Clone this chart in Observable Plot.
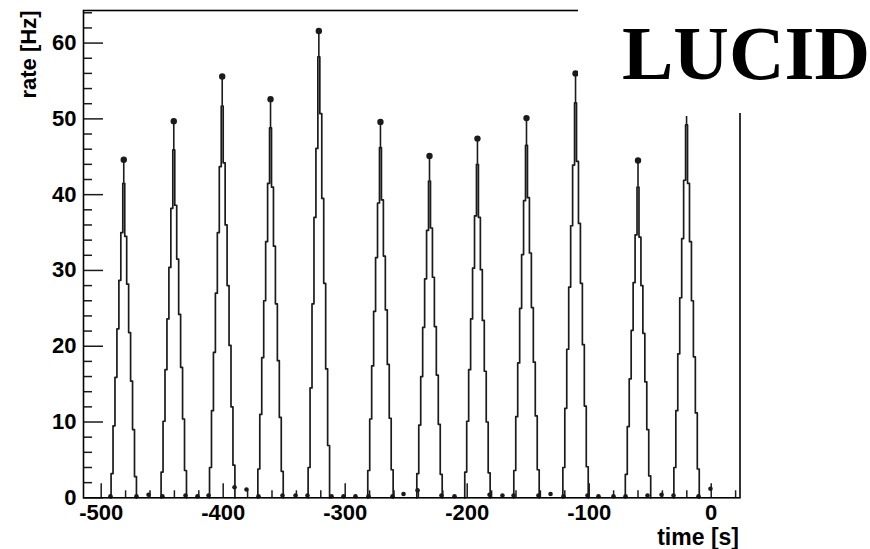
<!DOCTYPE html>
<html>
<head>
<meta charset="utf-8">
<script src="https://cdn.jsdelivr.net/npm/d3@7"></script>
<script src="https://cdn.jsdelivr.net/npm/@observablehq/plot@0.6"></script>
<style>
  html, body { margin: 0; padding: 0; background: #fff; }
  #wrap { position: relative; width: 870px; height: 549px; overflow: hidden; }
  #badge {
    position: absolute; left: 578px; top: 0; width: 292px; height: 113px;
    background: #fff;
  }
  #badge span {
    position: absolute; left: 44px; top: 15px;
    font-family: "Liberation Serif", "Times New Roman", serif;
    font-weight: bold; font-size: 77px; line-height: 1; color: #000;
    white-space: nowrap;
  }
</style>
</head>
<body>
<div id="wrap">
  <div id="chart"></div>
  <div id="badge"><span>LUCID</span></div>
</div>
<script>
// Scan peaks: centre time [s], marker rate [Hz], error-bar top, histogram top bin
const peakTime = [-481.5, -440.5, -400.8, -361.2, -321.6, -271.1, -230.9, -191.6, -151.4, -111.2, -60.0, -20.2];
const peakDot  = [44.6, 49.7, 55.6, 52.6, 61.6, 49.6, 45.1, 47.4, 50.1, 56.0, 44.5, null];
const peakErrHi = [44.6, 49.7, 55.6, 52.6, 61.6, 49.6, 45.1, 47.4, 50.1, 56.0, 44.5, 50.3];
const peakTop  = [41.5, 45.9, 51.7, 48.8, 58.2, 46.2, 41.8, 44.0, 46.5, 52.1, 41.0, 49.2];

// Histogram bins rising towards each peak (outer -> inner) and falling after it (inner -> outer)
const leftSteps = [
  [3.2, 9.5, 15.9, 22.3, 28.7, 35.0],
  [3.4, 10.1, 16.9, 23.6, 30.4, 38.2],
  [4.0, 11.5, 19.2, 27.0, 35.0, 43.7],
  [3.8, 11.0, 18.5, 26.0, 33.8, 41.5],
  [4.0, 14.5, 25.6, 37.0, 46.1],
  [3.6, 10.4, 17.4, 24.6, 31.7, 38.9],
  [3.2, 9.6, 16.0, 22.5, 28.9, 35.3],
  [3.4, 10.1, 16.9, 23.6, 30.3, 37.2],
  [3.6, 10.7, 17.8, 25.0, 32.1, 39.2],
  [4.0, 11.8, 19.6, 27.8, 35.9, 43.9],
  [3.1, 9.4, 15.7, 22.1, 28.4, 34.7],
  [4.0, 11.5, 19.0, 26.4, 34.2, 41.9]
];
const rightSteps = [
  [34.5, 28.2, 21.8, 15.4, 9.0, 2.8],
  [38.6, 31.5, 24.2, 17.2, 10.4, 3.6],
  [44.2, 36.0, 28.0, 20.1, 12.0, 4.3],
  [41.0, 33.2, 25.6, 18.1, 10.6, 3.5],
  [50.7, 39.5, 28.3, 17.0, 6.9],
  [39.3, 31.9, 24.8, 17.6, 10.5, 3.7],
  [35.6, 29.1, 22.6, 16.2, 9.7, 3.1],
  [37.0, 30.1, 23.4, 16.7, 10.0, 3.3],
  [39.6, 32.3, 25.1, 17.9, 10.8, 3.7],
  [44.4, 36.2, 28.3, 20.2, 12.1, 4.1],
  [34.4, 28.0, 21.7, 15.3, 9.0, 2.9],
  [41.5, 33.8, 26.0, 18.6, 11.2, 3.8]
];
const binWidth = 1.6;

// Off-peak measurements close to zero
const baseTime = [-492.4, -471.1, -461.2, -449.8, -430.9, -421.1, -412.0, -390.7, -380.9, -371.1,
  -351.4, -340.7, -330.9, -311.2, -301.4, -291.6, -280.9, -261.2, -252.2, -240.7, -221.1, -210.4,
  -181.7, -171.1, -162.0, -141.6, -131.7, -121.1, -101.4, -92.4, -80.1, -70.2, -52.2, -40.7,
  -30.9, -10.4, -0.6];
const baseRate = [0.2, 0.2, 0.4, 0.2, 0.3, 0.2, 0.3, 1.4, 1.1, 0.2,
  0.3, 0.3, 0.3, 0.2, 0.2, 0.2, 0.2, 0.2, 0.5, 1.0, 0.3, 0.2,
  0.4, 0.3, 0.3, 0.3, 0.5, 0.2, 0.3, 0.2, 0.2, 0.2, 0.3, 0.4,
  0.3, 0.2, 1.2];

// Axis ticks and labels
const xMajor = [-500, -400, -300, -200, -100, 0];
const xTickLabels = ["-500", "-400", "-300", "-200", "-100", "0"];
const xMinor = [-480, -460, -440, -420, -380, -360, -340, -320, -280, -260, -240, -220,
  -180, -160, -140, -120, -80, -60, -40, -20, 20];
const yMajor = [0, 10, 20, 30, 40, 50, 60];
const yTickLabels = ["0", "10", "20", "30", "40", "50", "60"];
const yMinor = [2, 4, 6, 8, 12, 14, 16, 18, 22, 24, 26, 28, 32, 34, 36, 38, 42, 44, 46, 48,
  52, 54, 56, 58, 62, 64];

const W = 870, H = 549;
const mL = 83, mR = 130.5, mT = 10, mB = 51.7;
const plotW = W - mL - mR, plotH = H - mT - mB;

// Outline vertices of the histogram around each peak
const outline = [];
peakTime.forEach((c, p) => {
  const levels = [...leftSteps[p], peakTop[p], ...rightSteps[p]];
  let t = c - binWidth / 2 - leftSteps[p].length * binWidth;
  outline.push({peak: p, t, rate: 0});
  for (const v of levels) {
    outline.push({peak: p, t, rate: v});
    t += binWidth;
    outline.push({peak: p, t, rate: v});
  }
  outline.push({peak: p, t, rate: 0});
});

const peaks = peakTime.map((t, i) => ({t, dot: peakDot[i], hi: peakErrHi[i], top: peakTop[i]}));
const base = baseTime.map((t, i) => ({t, rate: baseRate[i]}));

const ink = "#1b1b1b";
const labelFont = {fontSize: 22, fontWeight: "bold"};

const chart = Plot.plot({
  width: W, height: H,
  marginLeft: mL, marginRight: mR, marginTop: mT, marginBottom: mB,
  style: {fontFamily: "'Liberation Sans', Arial, Helvetica, sans-serif", color: "#000", background: "#fff", overflow: "visible"},
  x: {domain: [-514.5, 23.6]},
  y: {domain: [0, 64.3]},
  marks: [
    Plot.axisX(xMajor, {tickSize: 0, tickPadding: 7, tickFormat: (d, i) => xTickLabels[i], label: null, ...labelFont}),
    Plot.axisY(yMajor, {tickSize: 0, tickPadding: 7, tickFormat: (d, i) => yTickLabels[i], label: null, ...labelFont}),
    // inward tick marks on the left and bottom axes
    Plot.ruleY(yMajor, {stroke: ink, strokeWidth: 1.5, insetRight: plotW - 20}),
    Plot.ruleY(yMinor, {stroke: ink, strokeWidth: 1.5, insetRight: plotW - 9}),
    Plot.ruleX(xMajor, {stroke: ink, strokeWidth: 1.5, insetTop: plotH - 14}),
    Plot.ruleX(xMinor, {stroke: ink, strokeWidth: 1.5, insetTop: plotH - 7}),
    Plot.line(outline, {x: "t", y: "rate", z: "peak", stroke: ink, strokeWidth: 1.7, curve: "linear"}),
    Plot.ruleX(peaks, {x: "t", y1: "top", y2: "hi", stroke: ink, strokeWidth: 1.6, clip: true}),
    Plot.dot(peaks.filter(d => d.dot != null), {x: "t", y: "dot", r: 3.2, fill: ink, stroke: null}),
    Plot.dot(base, {x: "t", y: "rate", r: 2.3, fill: ink, stroke: null}),
    Plot.frame({stroke: "#000", strokeWidth: 1.6}),
    Plot.text(["rate [Hz]"], {frameAnchor: "top-left", dx: -63, rotate: -90, textAnchor: "end", fill: "#000", ...labelFont}),
    Plot.text(["time [s]"], {frameAnchor: "bottom-right", dx: -1, dy: 47, textAnchor: "end", fill: "#000", fontSize: 23, fontWeight: "bold"})
  ]
});
document.getElementById("chart").appendChild(chart);
</script>
</body>
</html>
